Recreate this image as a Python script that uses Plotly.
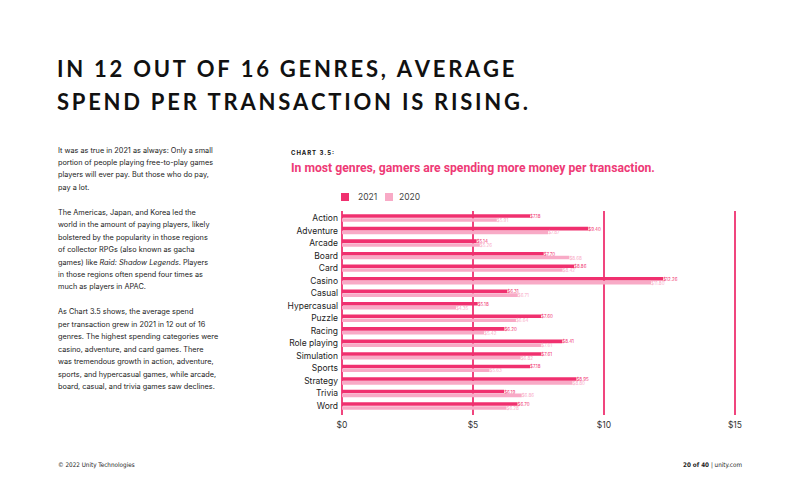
import plotly.graph_objects as go

genres = ["Action", "Adventure", "Arcade", "Board", "Card", "Casino", "Casual",
          "Hypercasual", "Puzzle", "Racing", "Role playing", "Simulation",
          "Sports", "Strategy", "Trivia", "Word"]
spend_2021 = [7.18, 9.40, 5.14, 7.70, 8.86, 12.26, 6.31, 5.18, 7.60, 6.20,
              8.41, 7.61, 7.18, 8.95, 6.19, 6.70]
spend_2020 = [5.91, 7.87, 5.26, 8.68, 8.42, 11.80, 6.71, 4.35, 6.64, 5.42,
              7.61, 6.82, 5.63, 8.80, 6.86, 6.28]
x_ticks = [0, 5, 10, 15]
x_tick_labels = ["$0", "$5", "$10", "$15"]
series_names = ["2021", "2020"]

body_lines = [
    "It was as true in 2021 as always: Only a small",
    "portion of people playing free-to-play games",
    "players will ever pay. But those who do pay,",
    "pay a lot.",
    "",
    "The Americas, Japan, and Korea led the",
    "world in the amount of paying players, likely",
    "bolstered by the popularity in those regions",
    "of collector RPGs (also known as gacha",
    "games) like <i>Raid: Shadow Legends</i>. Players",
    "in those regions often spend four times as",
    "much as players in APAC.",
    "",
    "As Chart 3.5 shows, the average spend",
    "per transaction grew in 2021 in 12 out of 16",
    "genres. The highest spending categories were",
    "casino, adventure, and card games. There",
    "was tremendous growth in action, adventure,",
    "sports, and hypercasual games, while arcade,",
    "board, casual, and trivia games saw declines.",
]

C21 = "#f0306f"
C20 = "#f8aac6"
GRID = "#f0457e"

W, H = 800, 500
L, R, T, B = 342, 64, 211, 85
PW, PH = W - L - R, H - T - B

fig = go.Figure()
for name, vals, col in [(series_names[0], spend_2021, C21), (series_names[1], spend_2020, C20)]:
    fig.add_trace(go.Bar(
        y=genres, x=vals, name=name, orientation="h",
        marker=dict(color=col, line=dict(width=0)),
        texttemplate="$%{x:.2f}", textposition="outside", constraintext="none",
        textfont=dict(size=4.5, color=col, family="Inter"), cliponaxis=False,
        showlegend=False,
    ))

annotations = []
shapes = []

def px_x(x):
    return (x - L) / PW

def px_y(y):
    return (H - B - y) / PH

def ann(text, x, y, size, color="#222", family="Inter", xanchor="left"):
    annotations.append(dict(text=text, x=px_x(x), y=px_y(y), xref="paper",
                            yref="paper", xanchor=xanchor, yanchor="middle",
                            showarrow=False,
                            font=dict(size=size, color=color, family=family)))

def spaced(s, sep="\u2009"):
    return sep.join(list(s))

title_font = "Lato"
ann("<b>" + spaced("IN 12 OUT OF 16 GENRES, AVERAGE") + "</b>", 55, 68, 22, "#111", title_font)
ann("<b>" + spaced("SPEND PER TRANSACTION IS RISING.") + "</b>", 55, 102, 22, "#111", title_font)

y0 = 150
for i, line in enumerate(body_lines):
    if line:
        ann(line, 56, y0 + i * 12.45, 7.3, "#222", "Inter")

ann("<b>" + spaced("CHART 3.5:") + "</b>", 289, 153, 6, "#111", "Inter")
ann("<b>In most genres, gamers are spending more money per transaction.</b>", 289, 168,
    12.2, "#ee3a76", "Roboto")

# legend
for (sx, tx, col, name) in [(341, 356, C21, series_names[0]), (385, 397, C20, series_names[1])]:
    shapes.append(dict(type="rect", xref="paper", yref="paper",
                       x0=px_x(sx), x1=px_x(sx + 8), y0=px_y(193), y1=px_y(201),
                       fillcolor=col, line=dict(width=0)))
    ann(name, tx, 197, 8.5, "#444", "Inter")

foot_font = "DejaVu Sans Condensed, Liberation Sans, sans-serif"
ann("© 2022 Unity Technologies", 56, 465, 6.3, "#222", foot_font)
ann("<b>20 of 40</b> | unity.com", 744, 465, 6.3, "#222", foot_font, xanchor="right")

fig.update_layout(
    width=W, height=H,
    margin=dict(l=L, r=R, t=T, b=B),
    paper_bgcolor="white", plot_bgcolor="white",
    barmode="group", bargap=0.38, bargroupgap=0.08,
    showlegend=False,
    annotations=annotations,
    shapes=shapes,
    xaxis=dict(range=[0, 15.04], tickvals=x_ticks, ticktext=x_tick_labels,
               showgrid=True, gridcolor=GRID, gridwidth=1.5,
               zeroline=True, zerolinecolor=GRID, zerolinewidth=2,
               showline=False, ticks="", ticklabelstandoff=3,
               tickfont=dict(size=8.5, color="#333", family="Inter"),
               fixedrange=True),
    yaxis=dict(type="category", categoryorder="array", categoryarray=genres,
               range=[15.72, -0.56], showgrid=False, showline=False, ticks="",
               ticklabelstandoff=3,
               tickfont=dict(size=8.5, color="#222", family="Inter"), fixedrange=True),
)

fig.write_html("out.html")
